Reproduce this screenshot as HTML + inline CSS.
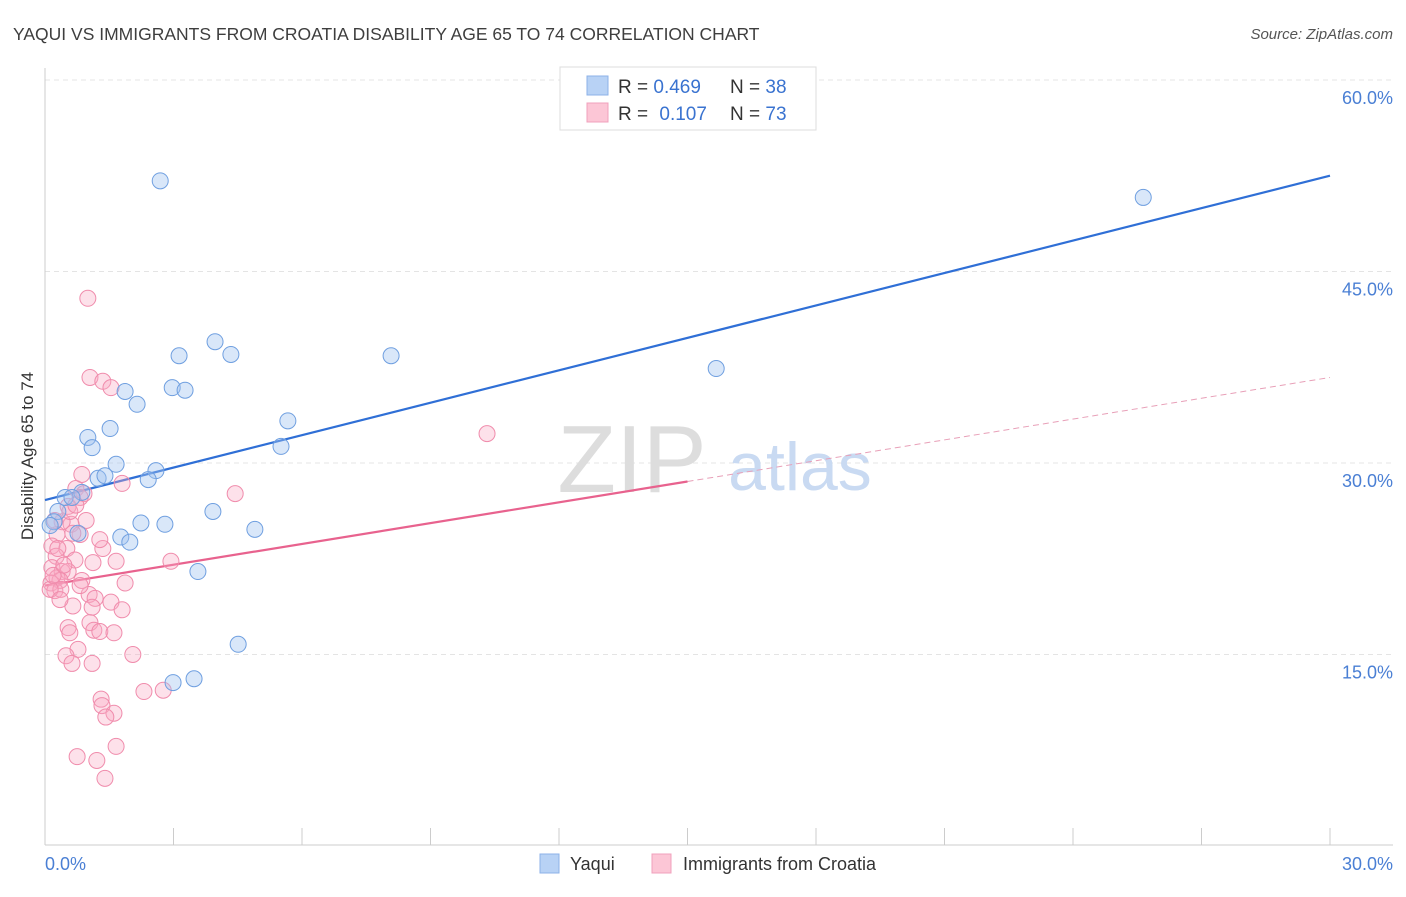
<!DOCTYPE html>
<html><head><meta charset="utf-8"><style>
body{margin:0;background:#fff;font-family:"Liberation Sans",sans-serif}
svg text{font-family:"Liberation Sans",sans-serif}
</style></head><body>
<svg width="1406" height="892" id="chart">
<text x="13" y="40" font-size="17.5" fill="#3e3e3e">YAQUI VS IMMIGRANTS FROM CROATIA DISABILITY AGE 65 TO 74 CORRELATION CHART</text>
<text x="1393" y="39" font-size="15" fill="#555" font-style="italic" text-anchor="end">Source: ZipAtlas.com</text>
<text transform="translate(33,456) rotate(-90)" font-size="17" fill="#333" text-anchor="middle">Disability Age 65 to 74</text>
<g id="grid"></g>
<g id="ticks"></g>
<line x1="45" y1="68" x2="45" y2="845" stroke="#ccc"/>
<line x1="45" y1="845" x2="1393" y2="845" stroke="#ccc"/>
<g id="xticks"></g>
<text x="45" y="870" font-size="18" fill="#4a7fd4">0.0%</text>
<text x="1393" y="870" font-size="18" fill="#4a7fd4" text-anchor="end">30.0%</text>
<g>
<text x="632" y="492" font-size="96" fill="#ddd" font-family="Liberation Serif" text-anchor="middle">ZIP</text>
<text x="800" y="490" font-size="68" fill="#c9daf2" text-anchor="middle">atlas</text>
</g>
<g id="lines"></g>
<g id="pts"></g>
<g>
<rect x="560" y="67" width="256" height="63" fill="#fff" stroke="#ddd"/>
<rect x="587" y="76" width="21" height="19" fill="#b8d2f5" stroke="#8cb2e8"/>
<rect x="587" y="103" width="21" height="19" fill="#fcc6d6" stroke="#f0a0bc"/>
<text x="618" y="93" font-size="19" fill="#333">R = <tspan fill="#3a73d0">0.469</tspan></text>
<text x="730" y="93" font-size="19" fill="#333">N = <tspan fill="#3a73d0">38</tspan></text>
<text x="618" y="120" font-size="19" fill="#333">R = <tspan fill="#3a73d0" dx="6">0.107</tspan></text>
<text x="730" y="120" font-size="19" fill="#333">N = <tspan fill="#3a73d0">73</tspan></text>
</g>
<g>
<rect x="540" y="854" width="19" height="19" fill="#b8d2f5" stroke="#8cb2e8"/>
<text x="570" y="870" font-size="18" fill="#333">Yaqui</text>
<rect x="652" y="854" width="19" height="19" fill="#fcc6d6" stroke="#f0a0bc"/>
<text x="683" y="870" font-size="18" fill="#333">Immigrants from Croatia</text>
</g>
</svg>
<script>
const yTicks=[15,30,45,60];
const yTickLabels=["15.0%","30.0%","45.0%","60.0%"];
const blueX=[2.69,25.64,3.97,3.13,4.34,8.08,15.67,2.97,3.27,1.87,2.15,5.67,1.52,1.00,1.10,5.51,1.66,2.59,2.41,1.24,1.40,0.86,0.47,0.63,0.30,0.21,3.92,2.24,2.80,4.90,1.77,1.98,3.57,4.51,2.99,3.48,0.77,0.12];
const blueY=[52.1,50.8,39.5,38.4,38.5,38.4,37.4,35.9,35.7,35.6,34.6,33.3,32.7,32.0,31.2,31.3,29.9,29.4,28.7,28.8,29.0,27.7,27.3,27.3,26.2,25.4,26.2,25.3,25.2,24.8,24.2,23.8,21.5,15.8,12.8,13.1,24.5,25.1];
const pinkX=[1.00,1.05,1.35,1.54,10.32,1.80,4.44,0.72,0.91,0.82,0.54,0.61,0.40,0.28,0.82,0.65,0.16,0.51,1.35,0.26,1.66,2.94,0.70,1.12,0.16,0.40,0.54,0.28,0.35,0.86,1.87,0.14,0.23,0.37,1.03,1.17,1.54,0.65,1.10,1.80,1.05,0.54,0.58,1.14,1.28,1.61,0.77,0.49,2.05,1.10,0.63,2.31,2.76,1.31,1.33,1.61,1.42,1.66,0.75,1.21,1.40,0.12,0.19,0.44,0.82,0.30,0.96,0.58,1.28,0.86,0.35,0.23,0.72];
const pinkY=[42.9,36.7,36.4,35.9,32.3,28.4,27.6,28.0,27.6,27.3,26.6,25.2,25.4,24.4,24.4,24.5,23.5,23.3,23.3,22.7,22.3,22.3,22.4,22.2,21.8,21.5,21.5,21.0,20.8,20.8,20.6,20.6,20.0,20.1,19.7,19.4,19.1,18.8,18.7,18.5,17.5,17.1,16.7,16.9,16.8,16.7,15.4,14.9,15.0,14.3,14.3,12.1,12.2,11.5,11.0,10.4,10.1,7.8,7.0,6.7,5.3,20.1,21.2,22.0,20.4,23.3,25.5,26.2,24.0,29.1,19.3,25.5,26.7];
const blueLine=[27.1,52.5];
const pinkLine=[20.4,36.7];
const pinkSolidEnd=15;
const NS="http://www.w3.org/2000/svg";
const sx=v=>45+v/30*1285;
const sy=v=>846-v*12.767;
function mk(t,a,p){const e=document.createElementNS(NS,t);for(const k in a)e.setAttribute(k,a[k]);document.getElementById(p).appendChild(e);return e;}
yTicks.forEach((t,i)=>{
 const g=mk('line',{x1:45,x2:1393,y1:sy(t),y2:sy(t),stroke:'#e4e4e4','stroke-dasharray':'5,4'},'grid');
 
 
 const l=mk('text',{x:1393,y:sy(t)+24,'font-size':18,fill:'#4a7fd4','text-anchor':'end'},'ticks');
 l.textContent=yTickLabels[i];
 
 
});
for(let i=1;i<=10;i++){
 const t=mk('line',{x1:sx(i*3),x2:sx(i*3),y1:828,y2:845,stroke:'#ccc'},'xticks');
 
 
}
const bl=mk('line',{x1:sx(0),y1:sy(blueLine[0]),x2:sx(30),y2:sy(blueLine[1]),stroke:'#2f6fd6','stroke-width':2.2},'lines');


const pm=pinkLine[0]+(pinkLine[1]-pinkLine[0])*pinkSolidEnd/30;
const pl=mk('line',{x1:sx(0),y1:sy(pinkLine[0]),x2:sx(pinkSolidEnd),y2:sy(pm),stroke:'#e8628e','stroke-width':2.2},'lines');


const pd=mk('line',{x1:sx(pinkSolidEnd),y1:sy(pm),x2:sx(30),y2:sy(pinkLine[1]),stroke:'#e8a0b8','stroke-width':1,'stroke-dasharray':'6,4'},'lines');


pinkX.forEach((x,i)=>{
 const c=mk('circle',{cx:sx(x),cy:sy(pinkY[i]),r:8,fill:'rgba(248,170,196,0.35)',stroke:'#f08cac','stroke-width':1},'pts');
 
 
});
blueX.forEach((x,i)=>{
 const c=mk('circle',{cx:sx(x),cy:sy(blueY[i]),r:8,fill:'rgba(160,196,240,0.4)',stroke:'#6f9fe0','stroke-width':1},'pts');
 
 
});
</script>
</body></html>
